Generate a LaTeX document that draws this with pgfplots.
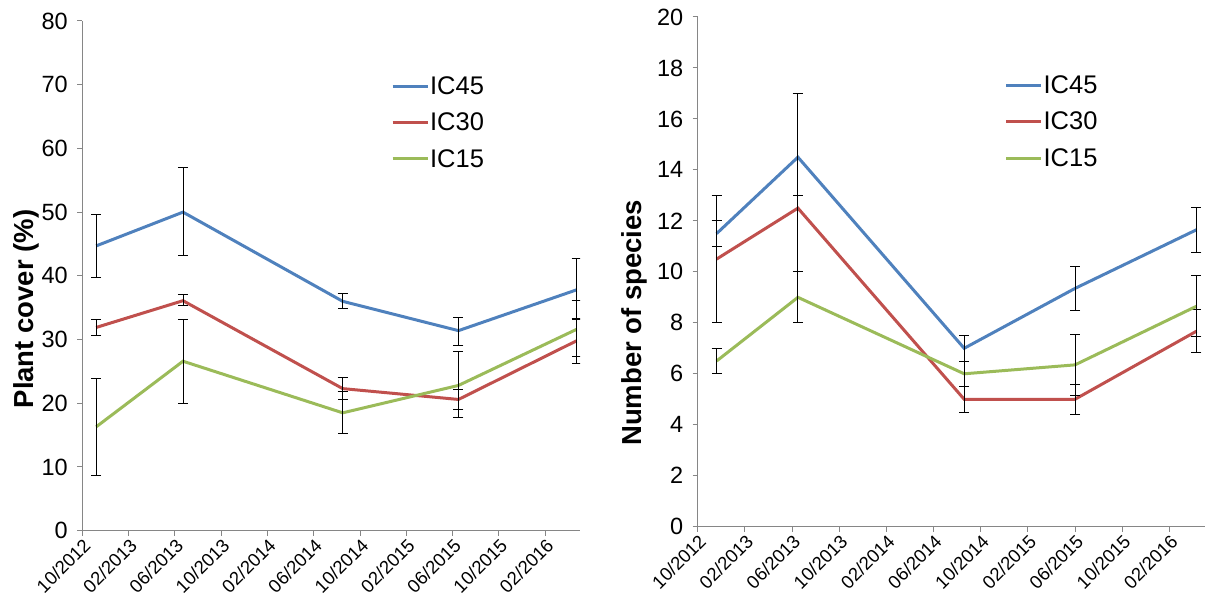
\documentclass[border=0pt]{standalone}
\usepackage{fontspec}
\setmainfont{Liberation Sans}
\usepackage{pgfplots}
\pgfplotsset{compat=1.18}
\usepackage{pgfplotstable}

\definecolor{c45}{HTML}{4F81BD}
\definecolor{c30}{HTML}{C0504D}
\definecolor{c15}{HTML}{9BBB59}
\definecolor{axgray}{HTML}{868686}

% months since 10/2012
\pgfplotstableread{
x y ep em
1.2 44.7 5.0 4.9
8.7 50.0 7.0 6.8
22.5 36.0 1.2 1.1
32.5 31.4 2.1 2.3
42.7 37.8 5.0 4.6
}\LA
\pgfplotstableread{
x y ep em
1.2 31.9 1.3 1.3
8.7 36.1 1.0 0.8
22.5 22.3 1.7 1.7
32.5 20.6 1.6 1.6
42.7 29.8 3.5 3.6
}\LB
\pgfplotstableread{
x y ep em
1.2 16.3 7.6 7.6
8.7 26.6 6.5 6.6
22.5 18.5 3.3 3.3
32.5 22.8 5.4 5.1
42.7 31.6 4.5 4.3
}\LC
\pgfplotstableread{
x y ep em
1.6 11.5 0.5 0.5
8.5 14.5 2.5 1.5
22.6 7.0 0.5 0.5
32.0 9.35 0.88 0.88
42.3 11.65 0.87 0.87
}\RA
\pgfplotstableread{
x y ep em
1.6 10.5 2.5 2.5
8.5 12.5 4.5 4.5
22.6 5.0 0.5 0.5
32.0 5.0 0.6 0.6
42.3 7.67 0.85 0.85
}\RB
\pgfplotstableread{
x y ep em
1.6 6.5 0.5 0.5
8.5 9.0 1.0 1.0
22.6 6.0 0.5 0.5
32.0 6.35 1.2 1.2
42.3 8.65 1.2 1.2
}\RC

\pgfplotsset{
  mystyle/.style={
    scale only axis,
    xmin=0, xmax=43, ymin=0,
    axis x line*=bottom, axis y line*=left,
    axis line style={axgray, line width=1bp},
    xtick={0,4,...,40},
    xticklabels={10/2012,02/2013,06/2013,10/2013,02/2014,06/2014,10/2014,02/2015,06/2015,10/2015,02/2016},
    xticklabel style={rotate=45, anchor=north east, inner sep=1bp, font=\fontsize{18.5bp}{22bp}\selectfont},
    yticklabel style={font=\fontsize{23.5bp}{27bp}\selectfont, xshift=-6bp},
    /pgf/number format/assume math mode=true,
    tick align=outside, major tick length=5bp,
    tick style={axgray, line width=1bp},
    every axis plot/.append style={line width=3bp, mark=none},
    error bars/y dir=both, error bars/y explicit,
    error bars/error bar style={black, line width=0.9bp},
    error bars/error mark options={rotate=90, mark size=5bp, black, line width=0.9bp},
    ylabel style={font=\bfseries\fontsize{27.5bp}{32bp}\selectfont, anchor=center},
    legend cell align=left,
    legend image code/.code={\draw[#1, line width=3bp] (0bp,0bp) -- (35bp,0bp);},
    legend style={draw=none, fill=none, anchor=north west, inner sep=0bp,
      font=\fontsize{25.5bp}{30bp}\selectfont, row sep=15bp,
      nodes={inner sep=1bp}},
  }
}

\begin{document}
\begin{tikzpicture}
\useasboundingbox (0bp,0bp) rectangle (1206bp,613bp);
\begin{axis}[mystyle,
  at={(82.3bp,82.3bp)}, anchor=south west,
  width=497.7bp, height=509.7bp,
  ymax=80, ytick={0,10,...,80},
  ylabel={Plant cover (\%)},
  ylabel style={at={(axis description cs:-0.112,0.435)}},
  legend style={at={(axis description cs:0.62,0.893)}},
]
\addplot[c45] table[x=x, y=y, y error plus=ep, y error minus=em] {\LA};
\addlegendentry{IC45}
\addplot[c30] table[x=x, y=y, y error plus=ep, y error minus=em] {\LB};
\addlegendentry{IC30}
\addplot[c15] table[x=x, y=y, y error plus=ep, y error minus=em] {\LC};
\addlegendentry{IC15}
\end{axis}
\begin{axis}[mystyle,
  at={(697.7bp,86.3bp)}, anchor=south west,
  width=507bp, height=509.7bp,
  ymax=20, ytick={0,2,...,20},
  ylabel={Number of species},
  ylabel style={at={(axis description cs:-0.124,0.40)}},
  legend style={at={(axis description cs:0.605,0.887)}},
]
\addplot[c45] table[x=x, y=y, y error plus=ep, y error minus=em] {\RA};
\addlegendentry{IC45}
\addplot[c30] table[x=x, y=y, y error plus=ep, y error minus=em] {\RB};
\addlegendentry{IC30}
\addplot[c15] table[x=x, y=y, y error plus=ep, y error minus=em] {\RC};
\addlegendentry{IC15}
\end{axis}
\end{tikzpicture}
\end{document}
